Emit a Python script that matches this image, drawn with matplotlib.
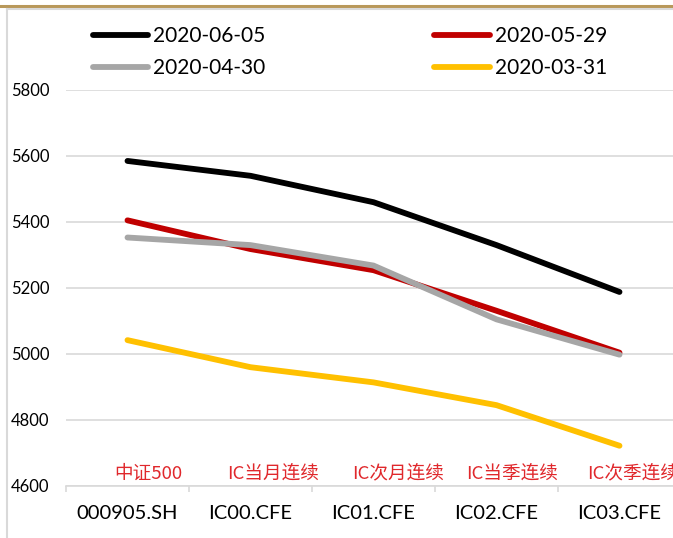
import matplotlib.pyplot as plt
from matplotlib.lines import Line2D

plt.rcParams['font.family'] = ['Lato', 'DejaVu Sans']

# data
codes = ['000905.SH', 'IC00.CFE', 'IC01.CFE', 'IC02.CFE', 'IC03.CFE']
names = ['中证500', 'IC当月连续', 'IC次月连续', 'IC当季连续', 'IC次季连续']
s_0605 = [5585, 5540, 5460, 5330, 5188]
s_0529 = [5405, 5318, 5254, 5131, 5004]
s_0430 = [5353, 5330, 5268, 5105, 4998]
s_0331 = [5042, 4960, 4914, 4845, 4722]
yticks = [4600, 4800, 5000, 5200, 5400, 5600, 5800]

W, H = 673, 538
fig = plt.figure(figsize=(W / 100, H / 100), dpi=100)

# axes placed in pixel terms (plot runs past the right edge, cropped like the source)
x0, x1 = 66, 681
y_bot, y_top = 486, 90
ax = fig.add_axes([x0 / W, (H - y_bot) / H, (x1 - x0) / W, (y_bot - y_top) / H])

x = range(len(codes))
series = [
    (s_0605, '#000000', '2020-06-05'),
    (s_0529, '#C00000', '2020-05-29'),
    (s_0430, '#A6A6A6', '2020-04-30'),
    (s_0331, '#FFC000', '2020-03-31'),
]
lines = []
for vals, col, lab in series:
    ln, = ax.plot(x, vals, color=col, lw=4.2, solid_capstyle='round',
                  solid_joinstyle='round', label=lab, zorder=3, clip_on=False)
    lines.append(ln)

ax.set_xlim(-0.5, 4.5)
ax.set_ylim(4600, 5800)
ax.set_yticks(yticks)
ax.tick_params(axis='y', length=0, pad=12, labelsize=12)
ax.set_xticks(list(x))
ax.set_xticklabels(codes, fontsize=14.5)
ax.tick_params(axis='x', which='major', length=0, pad=14)
ax.set_xticks([i - 0.5 for i in range(len(codes) + 1)], minor=True)
ax.tick_params(axis='x', which='minor', length=4, width=1.2, color='#D9D9D9')
ax.grid(axis='y', color='#D9D9D9', lw=1.2)
ax.set_axisbelow(True)
for side in ['top', 'right', 'left']:
    ax.spines[side].set_visible(False)
ax.spines['bottom'].set_color('#D9D9D9')
ax.spines['bottom'].set_linewidth(1.2)

# red name labels sitting above the axis
name_dx = [21, 23, 25, 16, 14]
for i, nm in enumerate(names):
    ax.annotate(nm, xy=(i, 4600), xytext=(name_dx[i] * 0.72, 2.5), textcoords='offset points',
                ha='center', va='bottom', fontsize=13.4, color='#E0282C',
                family=['Noto Sans CJK SC', 'DejaVu Sans'], annotation_clip=False)

# legend, 2x2, filled row by row
order = [lines[0], lines[2], lines[1], lines[3]]
fig.legend(handles=order, labels=[l.get_label() for l in order], ncol=2,
           loc='upper left', bbox_to_anchor=(93 / W, 1 - 26 / H),
           frameon=False, fontsize=15, handlelength=2.65, handletextpad=0.25,
           columnspacing=8.1, labelspacing=0.6, borderpad=0, borderaxespad=0)

# outer border pieces
fig.add_artist(Line2D([0, 1], [1 - 5.5 / H, 1 - 5.5 / H], color='#B8985A', lw=2.2))
fig.add_artist(Line2D([6.5 / W, 1], [1 - 8.5 / H, 1 - 8.5 / H], color='#D9D9D9', lw=1.5))
fig.add_artist(Line2D([6.5 / W, 6.5 / W], [0, 1 - 8.5 / H], color='#D9D9D9', lw=1.5))

fig.savefig('out.png', dpi=100)
